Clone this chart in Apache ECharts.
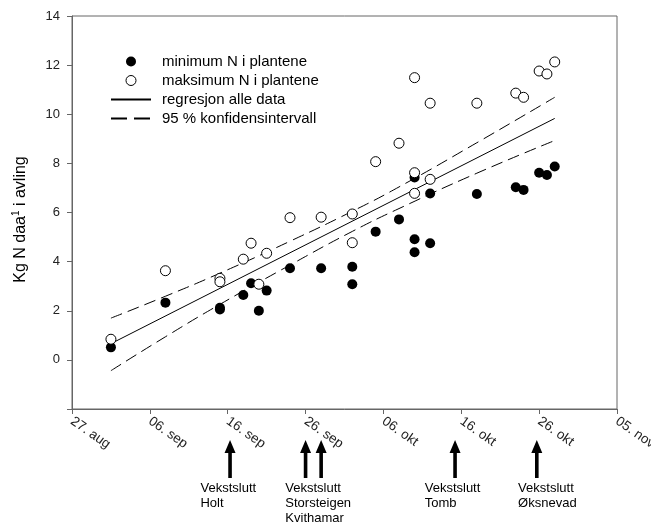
<!DOCTYPE html>
<html>
<head>
<meta charset="utf-8">
<script src="https://cdn.jsdelivr.net/npm/echarts@6/dist/echarts.min.js"></script>
<style>
  html, body { margin: 0; padding: 0; background: #fff; }
  #chart { width: 651px; height: 523px; }
</style>
</head>
<body>
<div id="chart"></div>
<script>
// x values are days after 27. aug
const xTickLabels = ['27. aug', '06. sep', '16. sep', '26. sep', '06. okt', '16. okt', '26. okt', '05. nov'];

const minDays = [5, 12, 19, 19, 22, 23, 24, 25, 28, 32, 36, 36, 39, 42, 44, 44, 44, 46, 46, 52, 57, 58, 60, 61, 62];
const minN = [0.51, 2.33, 2.05, 2.12, 2.64, 3.12, 2.00, 2.82, 3.73, 3.73, 3.79, 3.08, 5.22, 5.72, 7.43, 4.91, 4.38, 6.77, 4.75, 6.75, 7.03, 6.92, 7.62, 7.53, 7.87];

const maxDays = [5, 12, 19, 19, 22, 23, 24, 25, 28, 32, 36, 36, 39, 42, 44, 44, 44, 46, 46, 52, 57, 58, 60, 61, 62];
const maxN = [0.84, 3.63, 3.32, 3.18, 4.10, 4.75, 3.08, 4.34, 5.79, 5.81, 5.94, 4.77, 8.07, 8.82, 11.49, 7.62, 6.78, 10.45, 7.35, 10.45, 10.86, 10.69, 11.76, 11.64, 12.13];

const fitDays = [5, 62];
const fitN = [0.66, 9.83];

const bandDays = [5, 12, 19, 28, 36, 42, 52, 62];
const upperN = [1.70, 2.59, 3.53, 4.83, 6.05, 7.04, 8.84, 10.69];
const lowerN = [-0.44, 0.94, 2.26, 3.86, 5.23, 6.16, 7.60, 8.93];

// end of growing season markers
const arrowDays = [20.3, 30, 32, 49.2, 59.7];
const noteDays = [16.5, 27.4, 45.3, 57.3];
const noteTexts = ['Vekstslutt\nHolt', 'Vekstslutt\nStorsteigen\nKvithamar', 'Vekstslutt\nTomb', 'Vekstslutt\nØksnevad'];

const zip = (xs, ys) => xs.map((x, i) => [x, ys[i]]);
const font = 'Liberation Sans, Arial, sans-serif';
const noDot = { opacity: 0 };

const chart = echarts.init(document.getElementById('chart'));

chart.setOption({
  animation: false,
  backgroundColor: '#fff',
  textStyle: { fontFamily: font },
  grid: {
    left: 72, top: 16, right: 34, bottom: 114,
    outerBoundsMode: 'none',
    show: true, borderColor: '#666', borderWidth: 1
  },
  legend: {
    orient: 'vertical',
    left: 110,
    top: 52,
    padding: 0,
    itemWidth: 40,
    itemHeight: 10,
    itemGap: 0,
    textStyle: { fontSize: 15, color: '#000', lineHeight: 19, padding: [0, 0, 0, 6] },
    data: [
      { name: 'minimum N i plantene', itemStyle: { borderWidth: 0 } },
      { name: 'maksimum N i plantene', itemStyle: { borderWidth: 1 } },
      { name: 'regresjon alle data', itemStyle: noDot },
      { name: '95 % konfidensintervall', itemStyle: noDot, lineStyle: { type: [16, 7] } }
    ]
  },
  xAxis: {
    type: 'value',
    min: 0,
    max: 70,
    interval: 10,
    axisLine: { onZero: false, lineStyle: { color: '#666' } },
    axisTick: { length: 5, lineStyle: { color: '#666' } },
    splitLine: { show: false },
    axisLabel: {
      rotate: -35,
      margin: 11,
      fontSize: 13.5,
      color: '#222',
      formatter: v => xTickLabels[Math.round(v / 10)]
    }
  },
  yAxis: {
    type: 'value',
    min: -2,
    max: 14,
    interval: 2,
    name: '{n|Kg N daa}{sup|1}{n| i avling}',
    nameLocation: 'middle',
    nameGap: 42,
    nameTextStyle: {
      padding: [0, 14, 0, 0],
      rich: {
        n: { fontSize: 16, color: '#000', fontFamily: font },
        sup: { fontSize: 10, color: '#000', fontFamily: font, padding: [0, 0, 9, 0] }
      }
    },
    axisLine: { show: true, onZero: false, lineStyle: { color: '#666' } },
    axisTick: { show: true, length: 5, lineStyle: { color: '#666' } },
    splitLine: { show: false },
    axisLabel: {
      margin: 12,
      fontSize: 13,
      color: '#222',
      formatter: v => (v < 0 ? '' : String(v))
    }
  },
  series: [
    {
      name: 'regresjon alle data',
      type: 'line',
      data: zip(fitDays, fitN),
      symbol: 'none',
      lineStyle: { color: '#000', width: 1 },
      itemStyle: { color: '#000' },
      z: 1
    },
    {
      name: '95 % konfidensintervall',
      type: 'line',
      data: zip(bandDays, upperN),
      smooth: true,
      symbol: 'none',
      lineStyle: { color: '#000', width: 1, type: [12, 6] },
      itemStyle: { color: '#000' },
      z: 1
    },
    {
      name: '95 % konfidensintervall',
      type: 'line',
      data: zip(bandDays, lowerN),
      smooth: true,
      symbol: 'none',
      lineStyle: { color: '#000', width: 1, type: [12, 6] },
      itemStyle: { color: '#000' },
      z: 1
    },
    {
      name: 'minimum N i plantene',
      type: 'scatter',
      data: zip(minDays, minN),
      symbol: 'circle',
      symbolSize: 10,
      itemStyle: { color: '#000', opacity: 1 },
      z: 3
    },
    {
      name: 'maksimum N i plantene',
      type: 'scatter',
      data: zip(maxDays, maxN),
      symbol: 'circle',
      symbolSize: 10,
      itemStyle: { color: '#fff', borderColor: '#000', borderWidth: 1, opacity: 1 },
      z: 4
    }
  ]
});

// arrows and notes below the axis, placed from the date scale
const graphics = [];
arrowDays.forEach(d => {
  const x = chart.convertToPixel({ xAxisIndex: 0 }, d);
  graphics.push({
    type: 'polygon',
    shape: { points: [[x, 440], [x + 5.5, 453], [x + 1.8, 453], [x + 1.8, 478], [x - 1.8, 478], [x - 1.8, 453], [x - 5.5, 453]] },
    style: { fill: '#000' }
  });
});
noteDays.forEach((d, i) => {
  const x = chart.convertToPixel({ xAxisIndex: 0 }, d);
  graphics.push({
    type: 'text',
    x: x,
    y: 481,
    style: { text: noteTexts[i], font: '13px ' + font, lineHeight: 15, fill: '#000', align: 'left', verticalAlign: 'top' }
  });
});
chart.setOption({ graphic: graphics });
</script>
</body>
</html>
